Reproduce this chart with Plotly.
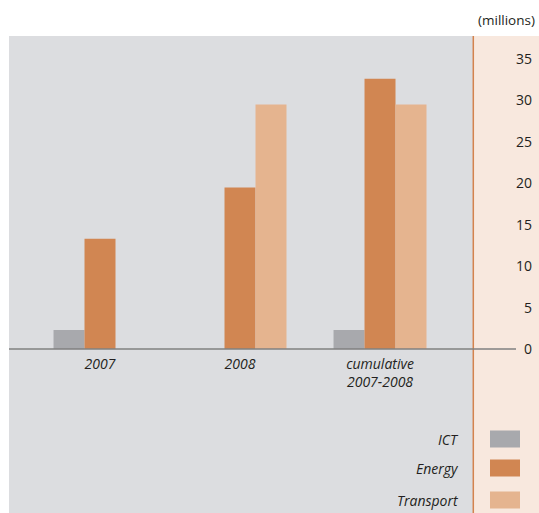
import plotly.graph_objects as go

# data (millions)
categories = ["2007", "2008", "cumulative<br>2007-2008"]
ict = [2.3, None, 2.3]
energy = [13.3, 19.5, 32.6]
transport = [None, 29.5, 29.5]

series_names = ["ICT", "Energy", "Transport"]
series_colors = ["#a8a9ad", "#d18652", "#e5b48f"]

W, H = 539, 513
L, R, T, B = 9, 4, 39, 154
PW, PH = W - L - R, H - T - B


def px(x):
    return (x - L) / PW


def py(y):
    return (H - B - y) / PH


FONT = "Open Sans"
TXT = "#231f20"

fig = go.Figure()
for name, vals, col in zip(series_names, [ict, energy, transport], series_colors):
    fig.add_trace(go.Bar(x=categories, y=vals, name=name, marker_color=col,
                         marker_line_width=0, showlegend=False))

shapes = [
    # grey chart panel and peach axis panel
    dict(type="rect", xref="paper", yref="paper", x0=px(9), x1=px(473), y0=py(520), y1=py(36),
         fillcolor="#dcdde0", line_width=0, layer="below"),
    dict(type="rect", xref="paper", yref="paper", x0=px(473), x1=px(545), y0=py(520), y1=py(36),
         fillcolor="#f8e8de", line_width=0, layer="below"),
    dict(type="line", xref="paper", yref="paper", x0=px(473.3), x1=px(473.3), y0=py(520), y1=py(36),
         line=dict(color="#d4834e", width=1.5), layer="below"),
    # baseline stops short of the tick labels
    dict(type="line", xref="paper", yref="y", x0=0, x1=px(516), y0=0, y1=0,
         line=dict(color="#808080", width=1.5)),
]

annotations = [
    dict(text="(millions)", xref="paper", yref="paper", x=px(537), y=py(20),
         xanchor="right", yanchor="middle", showarrow=False,
         font=dict(family=FONT, size=13.5, color=TXT)),
]

# legend drawn by hand: label on the left, swatch on the right
legend_rows = [439, 468, 500]
for name, col, yc in zip(series_names, series_colors, legend_rows):
    annotations.append(dict(text="<i>%s</i>" % name, xref="paper", yref="paper",
                            x=px(461), y=py(yc), xanchor="right", yanchor="middle",
                            showarrow=False, font=dict(family=FONT, size=14, color=TXT)))
    shapes.append(dict(type="rect", xref="paper", yref="paper", x0=px(490), x1=px(520),
                       y0=py(yc + 8.5), y1=py(yc - 8.5), fillcolor=col, line_width=0))

fig.update_layout(
    width=W, height=H,
    margin=dict(l=L, r=R, t=T, b=B),
    paper_bgcolor="white",
    plot_bgcolor="rgba(0,0,0,0)",
    barmode="group",
    bargap=0.336,
    bargroupgap=0,
    shapes=shapes,
    annotations=annotations,
    font=dict(family=FONT, size=14, color=TXT),
    xaxis=dict(type="category", range=[-0.65, 3.107], showgrid=False, showline=False,
               ticks="", ticklabelstandoff=-5,
               tickfont=dict(family=FONT, size=14, color=TXT, style="italic")),
    yaxis=dict(side="right", range=[-1.2, 37.4], tickvals=[0, 5, 10, 15, 20, 25, 30, 35],
               showgrid=False, showline=False,
               zeroline=False, ticklabelposition="inside",
               tickfont=dict(family=FONT, size=14, color=TXT)),
)

fig.write_html("out.html", config={"displayModeBar": False},
               post_script="document.body.style.margin = '0';")
